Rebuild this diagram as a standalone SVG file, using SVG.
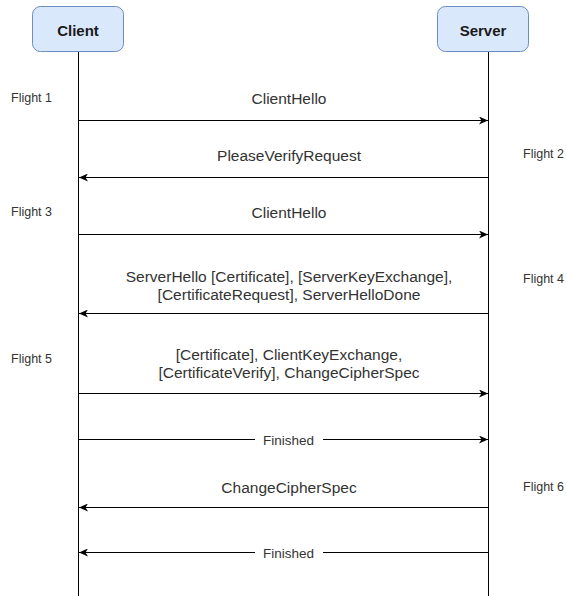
<svg xmlns="http://www.w3.org/2000/svg" width="567" height="596" viewBox="0 0 567 596">
<style>
.box{fill:#dae8fc;stroke:#6c8ebf;stroke-width:1}
.bt{font-family:"Liberation Sans",Arial,sans-serif;font-size:15px;font-weight:bold;fill:#1a1a1a;text-anchor:middle}
.life{stroke:#000;stroke-width:1;fill:none}
.msg{stroke:#000;stroke-width:1;fill:none;marker-end:url(#ah)}
.mt{font-family:"Liberation Sans",Arial,sans-serif;font-size:15.5px;fill:#333;text-anchor:middle}
.fin{font-family:"Liberation Sans",Arial,sans-serif;font-size:13.5px;fill:#333;text-anchor:middle}
.ft{font-family:"Liberation Sans",Arial,sans-serif;font-size:12.5px;fill:#333}
.lb{fill:#fff}
</style>
<defs>
<marker id="ah" markerWidth="10" markerHeight="8" refX="9" refY="4" orient="auto" markerUnits="userSpaceOnUse">
<path d="M0,0 L9,4 L0,8 L2.500,4 Z" fill="#000"/>
</marker>
</defs>
<rect width="567" height="596" fill="#fff"/>
<g id="client">
<rect class="box" x="32.500" y="6.500" width="91" height="45" rx="8"/>
<text class="bt" x="78" y="36">Client</text>
</g>
<g id="server">
<rect class="box" x="437.500" y="6.500" width="91" height="45" rx="8"/>
<text class="bt" x="483" y="36">Server</text>
</g>
<g id="connectors">
<line class="life" x1="78.500" y1="52" x2="78.500" y2="596"/>
<line class="life" x1="488.500" y1="52" x2="488.500" y2="596"/>
<line class="msg" x1="78.500" y1="120.500" x2="488" y2="120.500"/>
<line class="msg" x1="488.500" y1="177.500" x2="79" y2="177.500"/>
<line class="msg" x1="78.500" y1="234.500" x2="488" y2="234.500"/>
<line class="msg" x1="488.500" y1="313.500" x2="79" y2="313.500"/>
<line class="msg" x1="78.500" y1="393.500" x2="488" y2="393.500"/>
<line class="msg" x1="78.500" y1="439.500" x2="488" y2="439.500"/>
<line class="msg" x1="488.500" y1="507.500" x2="79" y2="507.500"/>
<line class="msg" x1="488.500" y1="552.500" x2="79" y2="552.500"/>
<rect class="lb" x="255" y="432" width="68" height="15"/>
<rect class="lb" x="255" y="545" width="68" height="15"/>
</g>
<g id="labels">
<text class="mt" x="289" y="104">ClientHello</text>
<text class="mt" x="289" y="161">PleaseVerifyRequest</text>
<text class="mt" x="289" y="218">ClientHello</text>
<text class="mt" x="289" y="282">ServerHello [Certificate], [ServerKeyExchange],</text>
<text class="mt" x="289" y="300">[CertificateRequest], ServerHelloDone</text>
<text class="mt" x="289" y="360">[Certificate], ClientKeyExchange,</text>
<text class="mt" x="289" y="378">[CertificateVerify], ChangeCipherSpec</text>
<text class="fin" x="288.500" y="444.500">Finished</text>
<text class="mt" x="289" y="493">ChangeCipherSpec</text>
<text class="fin" x="288.500" y="557.500">Finished</text>
<text class="ft" x="11" y="102">Flight 1</text>
<text class="ft" x="523" y="158">Flight 2</text>
<text class="ft" x="11" y="216">Flight 3</text>
<text class="ft" x="523" y="283">Flight 4</text>
<text class="ft" x="11" y="363">Flight 5</text>
<text class="ft" x="523" y="491">Flight 6</text>
</g>
</svg>
